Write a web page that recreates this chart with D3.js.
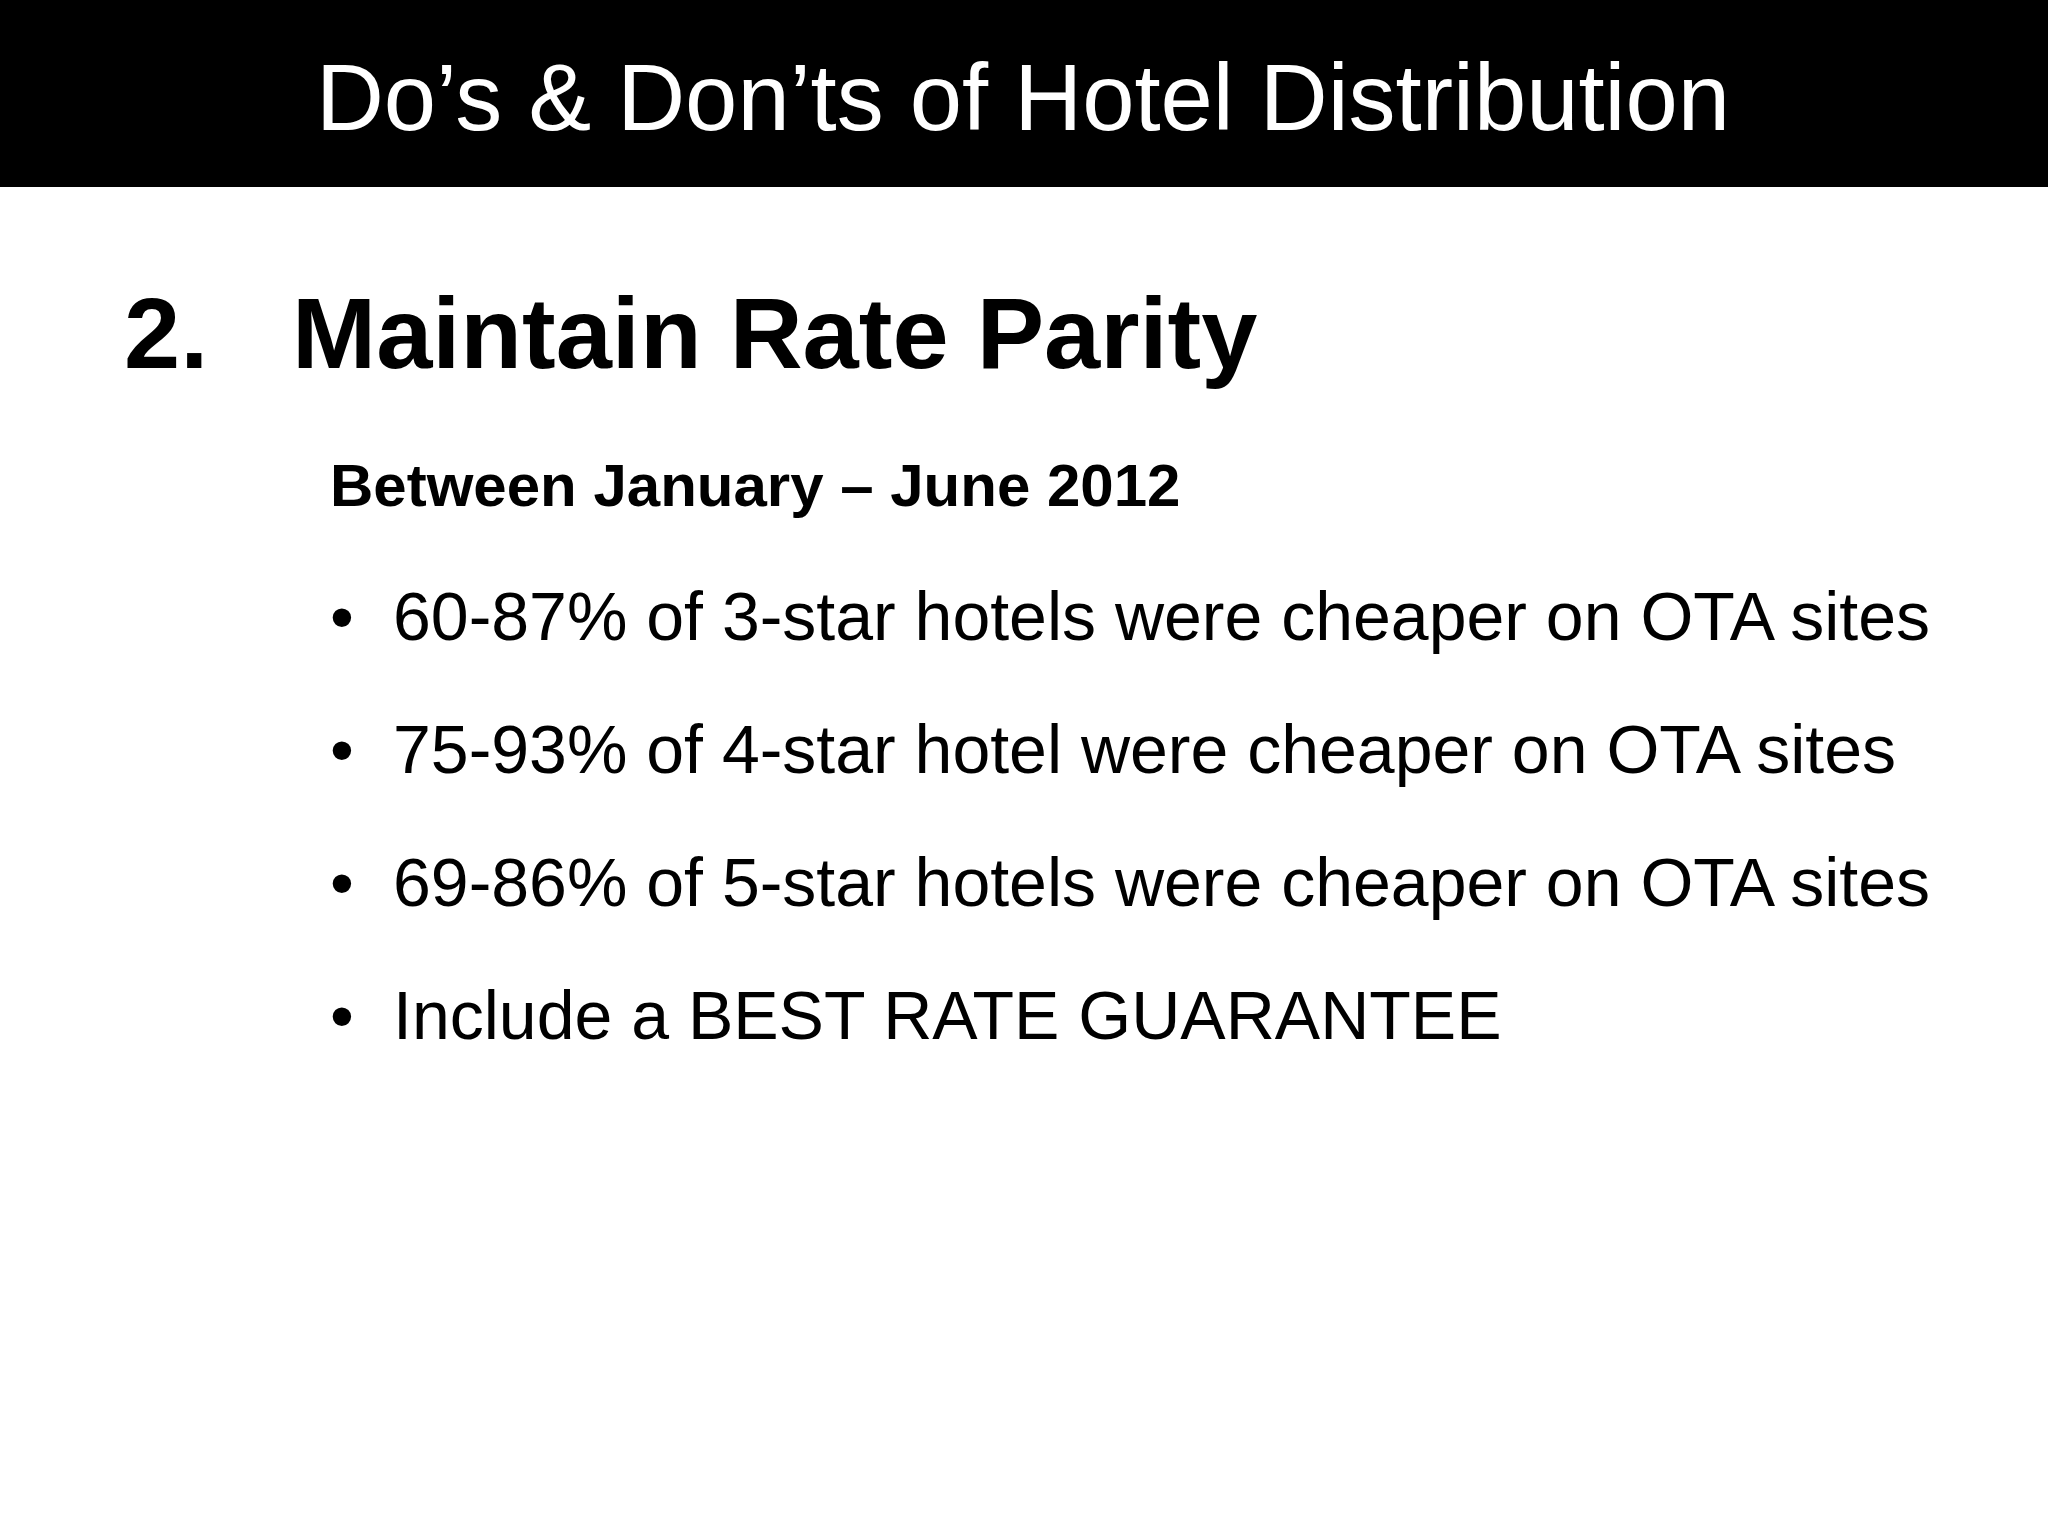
<!DOCTYPE html>
<html>
<head>
<meta charset="utf-8">
<script src="https://cdn.jsdelivr.net/npm/d3@7"></script>
<style>
  body { margin: 0; background: #fff; }
  svg { display: block; font-family: "Liberation Sans", Arial, sans-serif; }
</style>
</head>
<body>
<svg id="slide" width="2048" height="1536"></svg>
<script>
// SLIDE CONTENT
const title = "Do\u2019s & Don\u2019ts of Hotel Distribution";
const headingNumber = "2.";
const headingText = "Maintain Rate Parity";
const subheading = "Between January \u2013 June 2012";
const bullets = [
  "60-87% of 3-star hotels were cheaper on OTA sites",
  "75-93% of 4-star hotel were cheaper on OTA sites",
  "69-86% of 5-star hotels were cheaper on OTA sites",
  "Include a BEST RATE GUARANTEE",
];

const width = 2048;
const svg = d3.select("#slide");

// header bar
svg.append("rect")
  .attr("x", 0).attr("y", 0)
  .attr("width", width).attr("height", 187)
  .attr("fill", "#000");

svg.append("text")
  .attr("x", width / 2 - 1).attr("y", 130)
  .attr("text-anchor", "middle")
  .attr("fill", "#fff")
  .style("font-size", "94px")
  .text(title);

// heading
svg.append("text")
  .attr("x", 124).attr("y", 368)
  .style("font-size", "101px").style("font-weight", "bold")
  .text(headingNumber);

svg.append("text")
  .attr("x", 292).attr("y", 368)
  .style("font-size", "101px").style("font-weight", "bold")
  .text(headingText);

svg.append("text")
  .attr("x", 330).attr("y", 506)
  .style("font-size", "60px").style("font-weight", "bold")
  .text(subheading);

// bullets
const yScale = d3.scaleBand()
  .domain(d3.range(bullets.length))
  .range([573, 573 + 133 * bullets.length]);

const rows = svg.selectAll("g.bullet")
  .data(bullets)
  .join("g")
  .attr("class", "bullet")
  .attr("transform", (d, i) => `translate(0,${yScale(i) + 67})`);

rows.append("text")
  .attr("x", 330)
  .style("font-size", "68px")
  .text("\u2022");

rows.append("text")
  .attr("x", 393)
  .style("font-size", "68px")
  .text((d) => d);
</script>
</body>
</html>
